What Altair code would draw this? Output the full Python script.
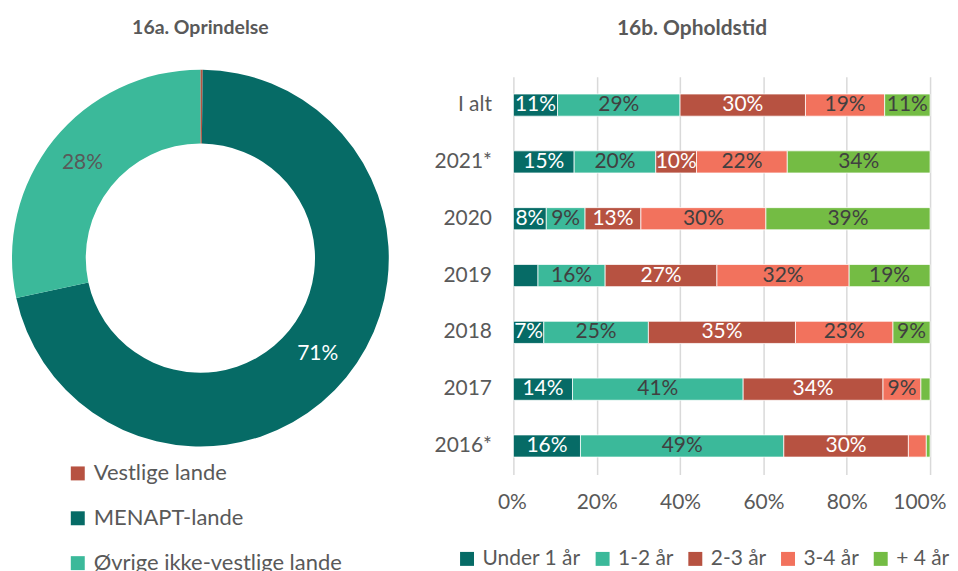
import altair as alt
import pandas as pd

# ---- 16a. Oprindelse (donut) ----
origin_categories = ["Vestlige lande", "MENAPT-lande", "Øvrige ikke-vestlige lande"]
origin_values = [0.2, 71.4, 28.4]
origin_labels = ["", "71%", "28%"]
origin_colors = ["#b75241", "#066b66", "#3bb99a"]
origin_label_colors = ["#ffffff", "#ffffff", "#595959"]

# ---- 16b. Opholdstid (stacked 100% bars) ----
years = ["I alt", "2021*", "2020", "2019", "2018", "2017", "2016*"]
durations = ["Under 1 år", "1-2 år", "2-3 år", "3-4 år", "+ 4 år"]
under_1 = [10.6, 14.6, 7.9, 5.9, 7.3, 14.2, 16.1]
yr_1_2 = [29.4, 19.6, 9.3, 16.1, 25.1, 41.0, 48.8]
yr_2_3 = [30.1, 9.8, 13.4, 26.8, 35.3, 33.6, 29.9]
yr_3_4 = [19.0, 21.8, 30.0, 31.7, 23.4, 9.1, 4.3]
yr_4_plus = [10.9, 34.3, 39.4, 19.4, 8.9, 2.2, 0.9]
duration_colors = ["#066b66", "#3bb99a", "#b75241", "#f2725d", "#74bc44"]
duration_label_colors = ["#ffffff", "#404040", "#ffffff", "#404040", "#404040"]
min_labelled = 7

FONT = "Lato"
GRAY = "#595959"

donut_df = pd.DataFrame({
    "cat": origin_categories,
    "val": origin_values,
    "ord": list(range(len(origin_categories))),
    "label": origin_labels,
    "tcol": origin_label_colors,
})

series = [under_1, yr_1_2, yr_2_3, yr_3_4, yr_4_plus]
rows = []
for i, year in enumerate(years):
    vals = [s[i] for s in series]
    total = sum(vals)
    cum = 0.0
    for j, dur in enumerate(durations):
        v = vals[j]
        start = cum / total
        cum += v
        end = cum / total
        rows.append({
            "year": year, "dur": dur, "val": v,
            "start": start, "end": end, "mid": (start + end) / 2,
            "label": f"{round(v)}%" if v >= min_labelled else "",
            "tcol": duration_label_colors[j],
        })
bar_df = pd.DataFrame(rows)

# Donut panel
dbase = alt.Chart(donut_df).encode(
    theta=alt.Theta("val:Q", stack=True),
    order=alt.Order("ord:Q"),
)
arc = dbase.mark_arc(outerRadius=189, innerRadius=115).encode(
    x=alt.value(193), y=alt.value(182),
    color=alt.Color(
        "cat:N",
        scale=alt.Scale(domain=origin_categories, range=origin_colors),
        legend=alt.Legend(
            title=None, orient="none", legendX=59, legendY=387,
            direction="vertical", symbolType="square", symbolSize=196,
            symbolStrokeWidth=0, labelFont=FONT, labelFontSize=22,
            labelColor=GRAY, rowPadding=23, labelOffset=5, labelLimit=400,
        ),
    ),
)
arc_text = dbase.mark_text(radius=152, fontSize=21, font=FONT).encode(
    x=alt.value(193), y=alt.value(182),
    text="label:N",
    detail="cat:N",
    color=alt.Color("tcol:N", scale=None),
)
donut = alt.layer(arc, arc_text).properties(
    width=400, height=399,
    title=alt.TitleParams(
        "16a. Oprindelse", fontSize=19.5, font=FONT, fontWeight="bold",
        color=GRAY, anchor="middle", frame="bounds", offset=38, dy=7, dx=-7,
    ),
)

# Bar panel
y_enc = alt.Y(
    "year:N", sort=years,
    scale=alt.Scale(paddingInner=0.61, paddingOuter=0.305),
    axis=alt.Axis(
        title=None, domain=False, ticks=False, tickSize=0, labelFont=FONT,
        labelFontSize=21, labelColor=GRAY, labelPadding=22,
    ),
)
bars = alt.Chart(bar_df).mark_bar(stroke="white", strokeWidth=0.75).encode(
    y=y_enc,
    x=alt.X(
        "start:Q",
        scale=alt.Scale(domain=[0, 1], nice=False),
        axis=alt.Axis(
            title=None, format="%", values=[0, 0.2, 0.4, 0.6, 0.8, 1.0],
            domain=False, ticks=False, tickSize=0, grid=True,
            gridColor="#d9d9d9", gridWidth=1.5, labelFont=FONT,
            labelFontSize=21, labelColor=GRAY, labelPadding=17,
            labelFlush=True, labelFlushOffset=16, labelOverlap=False,
        ),
    ),
    x2="end:Q",
    color=alt.Color(
        "dur:N",
        scale=alt.Scale(domain=durations, range=duration_colors),
        legend=alt.Legend(
            title=None, orient="none", legendX=-57, legendY=473,
            direction="horizontal", symbolType="square", symbolSize=196,
            symbolStrokeWidth=0, labelFont=FONT, labelFontSize=21,
            labelColor=GRAY, columnPadding=11, labelOffset=5,
        ),
    ),
)
bar_text = alt.Chart(bar_df).mark_text(fontSize=21, font=FONT).encode(
    y=alt.Y("year:N", sort=years),
    x=alt.X("mid:Q"),
    text="label:N",
    color=alt.Color("tcol:N", scale=None),
)
barchart = alt.layer(bars, bar_text).properties(
    width=418, height=399,
    title=alt.TitleParams(
        "16b. Opholdstid", fontSize=21, font=FONT, fontWeight="bold",
        color=GRAY, anchor="middle", frame="bounds", offset=38,
    ),
)

chart = alt.hconcat(donut, barchart, spacing=107, bounds="flush").resolve_scale(
    color="independent"
).properties(
    padding={"left": 0, "top": 9, "right": 0, "bottom": 0},
).configure_view(strokeWidth=0)

chart.save("out.html", embed_options={"renderer": "svg", "actions": False})
